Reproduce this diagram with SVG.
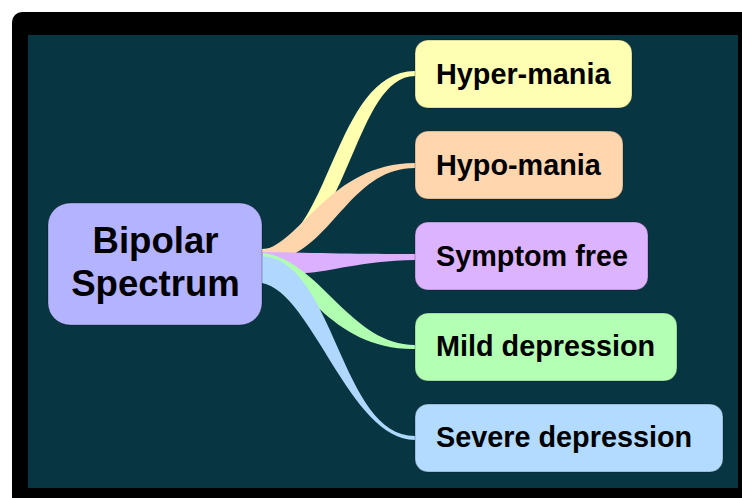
<svg xmlns="http://www.w3.org/2000/svg" width="742" height="498" viewBox="0 0 742 498">
  <style>
    .box { stroke: rgba(0,0,0,0.28); stroke-width: 1; }
    .label { font-family: "Liberation Sans", Arial, sans-serif; font-weight: bold; fill: #000; }
    .child { font-size: 28.8px; }
    .root { font-size: 36.6px; text-anchor: middle; }
  </style>
  <rect x="0" y="0" width="742" height="498" fill="#ffffff"/>
  <!-- frame and canvas -->
  <rect x="12" y="12" width="745" height="500" rx="10" fill="#000000"/>
  <rect x="28" y="35" width="710" height="453" fill="#083542"/>

  <!-- tapered branches from the root to each child -->
  <g id="connectors">
    <path fill="#ffffb0" d="M262,249 C330,249 333,71 415,71 L415,76 C352,76 348,258 262,258 Z"/>
    <path fill="#ffd5ab" d="M262,250 C300,245 330,163 415,163 L415,168 C345,168 330,262 262,262 Z"/>
    <path fill="#dcb0ff" d="M262,252 C320,253 360,254 415,254 L415,260 C360,261 330,272 305,273 C285,273 270,268 262,266 Z"/>
    <path fill="#b0ffb0" d="M263,253 C320,260 350,345 415,345 L415,349 C330,350 300,275 263,258 Z"/>
    <path fill="#b0d8ff" d="M262,256 C335,260 340,436 415,436 L415,440 C350,440 312,292 262,283 Z"/>
  </g>

  <g id="root">
    <rect class="box" x="48" y="203" width="214" height="122" rx="22" fill="#b3b3ff"/>
    <text class="label root" x="155.5" y="253">Bipolar</text>
    <text class="label root" x="155.5" y="296">Spectrum</text>
  </g>

  <g id="hyper-mania">
    <rect class="box" x="415" y="40" width="217" height="68" rx="13" fill="#ffffb3"/>
    <text class="label child" x="436" y="84">Hyper-mania</text>
  </g>
  <g id="hypo-mania">
    <rect class="box" x="415" y="131" width="208" height="68" rx="13" fill="#ffd6ad"/>
    <text class="label child" x="436" y="174.5">Hypo-mania</text>
  </g>
  <g id="symptom-free">
    <rect class="box" x="415" y="222" width="233" height="68" rx="13" fill="#dcb3ff"/>
    <text class="label child" x="436" y="265.5">Symptom free</text>
  </g>
  <g id="mild-depression">
    <rect class="box" x="415" y="313" width="262" height="68" rx="13" fill="#b3ffb3"/>
    <text class="label child" x="436" y="355.5">Mild depression</text>
  </g>
  <g id="severe-depression">
    <rect class="box" x="415" y="404" width="308" height="68" rx="13" fill="#b3daff"/>
    <text class="label child" x="436" y="446.5">Severe depression</text>
  </g>
</svg>
